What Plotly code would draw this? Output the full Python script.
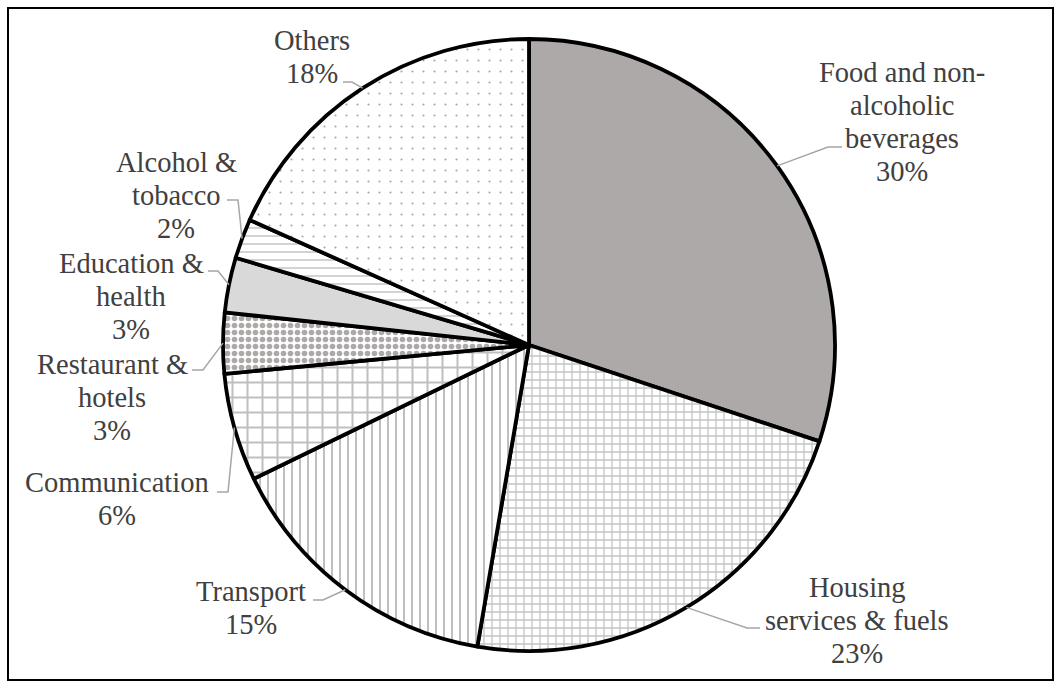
import math
import plotly.graph_objects as go

# ---------------- data ----------------
categories = [
    "Food and non-alcoholic beverages",
    "Housing services & fuels",
    "Transport",
    "Communication",
    "Restaurant & hotels",
    "Education & health",
    "Alcohol & tobacco",
    "Others",
]
shares = [30.1, 22.6, 15.1, 5.7, 3.2, 2.9, 2.1, 18.3]
label_lines = [
    ["Food and non-", "alcoholic", "beverages"],
    ["Housing", "services & fuels"],
    ["Transport"],
    ["Communication"],
    ["Restaurant &", "hotels"],
    ["Education &", "health"],
    ["Alcohol &", "tobacco"],
    ["Others"],
]

# ---------------- styles / layout ----------------
W, H = 1060, 687
CX, CY, R = 529, 345, 306          # pie centre and radius in pixels

fill_colors = ["#ADA9A8", "white", "white", "white", "white", "#D9D9D9", "white", "white"]
pat_shapes = ["", "+", "|", "+", ".", "", "-", "."]
pat_fg = ["#ADA9A8", "#C4C4C4", "#BFBFBF", "#BFBFBF", "#ADA9A8", "#D9D9D9", "#C8C8C8", "#A6A6A6"]
pat_size = [8, 8, 8, 15, 7, 8, 8, 11]
pat_solidity = [0.3, 0.3, 0.25, 0.25, 0.5, 0.3, 0.2, 0.03]

# label block centres (pixels) and leader elbow points (pixels)
label_pos = [(902, 122), (857, 620), (251, 608), (117, 499),
             (112, 397), (131, 296), (176, 195), (312, 57)]
leader_elbow = [
    [(842, 147), (828, 147)],
    [(760, 628), (747, 628)],
    [(313, 600), (323, 600)],
    [(217, 492), (228, 492)],
    [(192, 370), (203, 370)],
    [(208, 271), (218, 271)],
    [(227, 200), (238, 200)],
    [(343, 82), (352, 82)],
]
LINE_H = 33
TEXT_COLOR = "#404040"
LEADER_COLOR = "#A6A6A6"
FONT = "Liberation Serif, serif"


def px(x, y):
    return x / W, 1 - y / H


fig = go.Figure()
fig.add_trace(go.Pie(
    labels=categories,
    values=shares,
    sort=False,
    direction="clockwise",
    rotation=0,
    textinfo="none",
    hoverinfo="skip",
    showlegend=False,
    marker=dict(
        colors=fill_colors,
        line=dict(color="black", width=3.8),
        pattern=dict(
            shape=pat_shapes,
            fgcolor=pat_fg,
            bgcolor=fill_colors,
            size=pat_size,
            solidity=pat_solidity,
            fillmode="replace",
        ),
    ),
    domain=dict(x=[(CX - R) / W, (CX + R) / W], y=[1 - (CY + R) / H, 1 - (CY - R) / H]),
))

total = sum(shares)
annotations = []
shapes = []
cum = 0.0
for i, v in enumerate(shares):
    mid = (cum + v / 2) / total * 2 * math.pi
    cum += v
    # point on pie edge at the slice's mid angle (clockwise from 12 o'clock)
    ex = CX + R * math.sin(mid)
    ey = CY - R * math.cos(mid)
    pts = leader_elbow[i] + [(ex, ey)]
    path = "M " + " L ".join(f"{px(x, y)[0]},{px(x, y)[1]}" for x, y in pts)
    shapes.append(dict(type="path", path=path, xref="paper", yref="paper",
                       line=dict(color=LEADER_COLOR, width=1.5), layer="above"))

    lines = label_lines[i] + [f"{round(v / total * 100)}%"]
    n = len(lines)
    bx, by = px(*label_pos[i])
    for j, t in enumerate(lines):
        annotations.append(dict(
            x=bx, y=by, xref="paper", yref="paper", text=t, showarrow=False,
            xanchor="center", yanchor="middle", yshift=((n - 1) / 2 - j) * LINE_H,
            font=dict(family=FONT, size=28.5, color=TEXT_COLOR),
        ))

# outer border
shapes.append(dict(type="rect", xref="paper", yref="paper",
                   x0=8 / W, x1=1053 / W, y0=1 - 680 / H, y1=1 - 8 / H,
                   line=dict(color="black", width=2), layer="below"))

fig.update_layout(
    width=W, height=H,
    margin=dict(l=0, r=0, t=0, b=0),
    paper_bgcolor="white", plot_bgcolor="white",
    annotations=annotations, shapes=shapes,
)

fig.write_html(
    "out.html",
    config={"displayModeBar": False},
    post_script="document.body.style.margin='0px';document.body.style.overflow='hidden';",
)
